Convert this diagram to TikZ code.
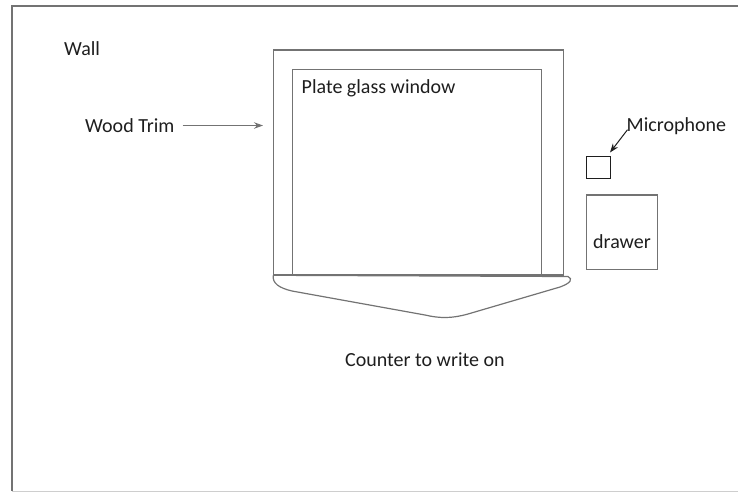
\documentclass[tikz,border=0pt]{standalone}
\usepackage{fontspec}
\setmainfont{Carlito}
\usetikzlibrary{arrows.meta}
\definecolor{lineg}{RGB}{115,115,115}
\definecolor{txt}{RGB}{30,30,30}

\begin{document}
\begin{tikzpicture}[
      x=1pt, y=-1pt,
      >={Stealth[length=9pt,width=6.5pt]},
      frame/.style={draw=lineg, line width=1.2pt},
      lbl/.style={anchor=base west, inner sep=0pt, text=txt,
                  font=\fontsize{20}{24}\selectfont},
      box/.style={draw=lineg, line width=1.2pt, inner sep=0pt},
      arr/.style={->, line width=1pt},
    ]
    \useasboundingbox (0,0) rectangle (738,493);

    % --- wall ---
    \draw[frame] (738,6) -- (12,6) -- (12,491);
    \draw[lineg!35, line width=0.8pt] (12,491) -- (738,491);
    \node[lbl] (wall) at (64,55) {Wall};

    % --- window ---
    \node[box, minimum width=290, minimum height=225] (trim) at (418.3,162.5) {};
    \node[box, minimum width=249, minimum height=206] (glass) at (417.2,172.1) {};
    \node[lbl] (glasslbl) at (301.5,93.3) {Plate glass window};

    % --- counter ---
    \draw[frame] (273.3,275.3) -- (568,276.5)
      .. controls (573,279) and (571,283) .. (560,287)
      -- (468,314) .. controls (452,318.5) and (440,318.5) .. (425,315)
      -- (292,291) .. controls (279,288) and (272,283) .. (273.3,275.3);
    \node[lbl] (counter) at (345,366.7) {Counter to write on};

    % --- wood trim label ---
    \node[lbl] (woodlbl) at (85,132) {Wood Trim};
    \coordinate (trimpt) at (263,125.5);
    \draw[arr, lineg] (woodlbl.east |- trimpt) ++(8,0) -- (trimpt);

    % --- microphone & drawer ---
    \node[box, draw=txt, minimum width=24, minimum height=22] (mic) at (598.8,167.2) {};
    \node[lbl] (miclbl) at (626.5,131.7) {Microphone};
    \coordinate (micpt) at (610,152.5);
    \draw[arr, txt] (miclbl.base west) ++(1,-2) -- (micpt);
    \node[box, minimum width=70.6, minimum height=74.3] (drawer) at (622,232.2) {};
    \node[lbl] (drawerlbl) at (593,248) {drawer};
  \end{tikzpicture}
\end{document}
